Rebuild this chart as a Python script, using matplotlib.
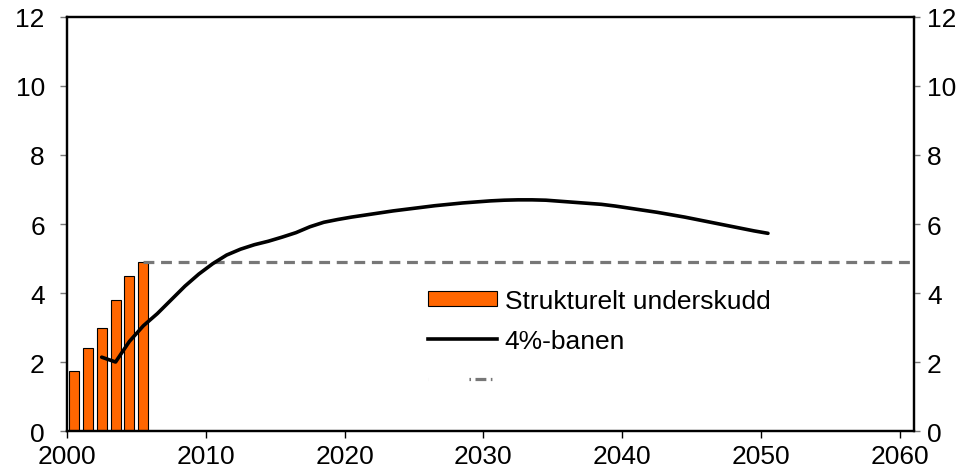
import matplotlib.pyplot as plt
from matplotlib.lines import Line2D
from matplotlib.patches import Patch

plt.rcParams['font.family'] = ['Liberation Sans', 'DejaVu Sans']

# Strukturelt underskudd (bars), 2000-2005
bar_years = [2000, 2001, 2002, 2003, 2004, 2005]
bar_values = [1.75, 2.4, 3.0, 3.8, 4.5, 4.9]

# 4%-banen, 2002-2050
line_years = list(range(2002, 2051))
line_values = [2.14, 2.0, 2.6, 3.05, 3.4, 3.8, 4.2, 4.55, 4.85, 5.1,
               5.27, 5.4, 5.5, 5.62, 5.75, 5.92, 6.05, 6.13, 6.2, 6.26,
               6.32, 6.38, 6.43, 6.48, 6.53, 6.57, 6.61, 6.64, 6.67, 6.69,
               6.7, 6.7, 6.69, 6.66, 6.63, 6.6, 6.57, 6.52, 6.46, 6.4,
               6.34, 6.27, 6.2, 6.12, 6.04, 5.96, 5.88, 5.8, 5.73]

# flat level after 2005
flat_years = [2005, 2060]
flat_values = [4.9, 4.9]

labels = ["Strukturelt underskudd", "4%-banen", ""]
xticks = [2000, 2010, 2020, 2030, 2040, 2050, 2060]
yticks = [0, 2, 4, 6, 8, 10, 12]
fs = 19

fig = plt.figure(figsize=(9.71, 4.77), dpi=100)
ax = fig.add_axes([0.069, 0.0943, 0.872, 0.868])

# categories sit between tick marks -> offset by half a year
ax.bar([y + 0.5 for y in bar_years], bar_values, width=0.72,
       color="#FF6600", edgecolor="black", linewidth=0.8, zorder=2)
ax.plot([y + 0.5 for y in line_years], line_values, color="black",
        linewidth=2.6, zorder=4, solid_capstyle="round")
ax.plot([flat_years[0] + 0.5, flat_years[1] + 1], flat_values, color="#777777",
        linewidth=2.3, dashes=(3.4, 2.1), zorder=3)

ax.set_xlim(2000, 2061)
ax.set_ylim(0, 12)
ax.set_xticks(xticks)
ax.set_yticks(yticks)
ax.tick_params(axis="x", direction="out", length=5, width=1, labelsize=fs, pad=4)
ax.tick_params(axis="y", direction="out", length=5, width=1, colors="#777777",
               labelcolor="black", labelsize=fs, pad=11)
for s in ax.spines.values():
    s.set_linewidth(1.6)

ax2 = ax.twinx()
ax2.set_ylim(0, 12)
ax2.set_yticks(yticks)
ax2.tick_params(axis="y", direction="out", length=4.5, width=1, colors="#777777",
                labelcolor="black", labelsize=fs, pad=5)
for s in ax2.spines.values():
    s.set_linewidth(1.6)

handles = [
    Patch(facecolor="#FF6600", edgecolor="black", linewidth=0.8),
    Line2D([], [], color="black", linewidth=2.6),
    Line2D([], [], color="#777777", linewidth=2.3,
           dashes=(0.01, 12.8, 0.5, 1.4, 3.4, 1.4, 0.5, 60)),
]
ax.legend(handles, labels, loc="upper left", bbox_to_anchor=(428 / 971, 1 - 290 / 477),
          bbox_transform=fig.transFigure, frameon=False, fontsize=fs,
          handlelength=2.6, handleheight=0.53, handletextpad=0.3,
          labelspacing=0.6, borderpad=0, borderaxespad=0)

fig.savefig("out.png", dpi=100)
